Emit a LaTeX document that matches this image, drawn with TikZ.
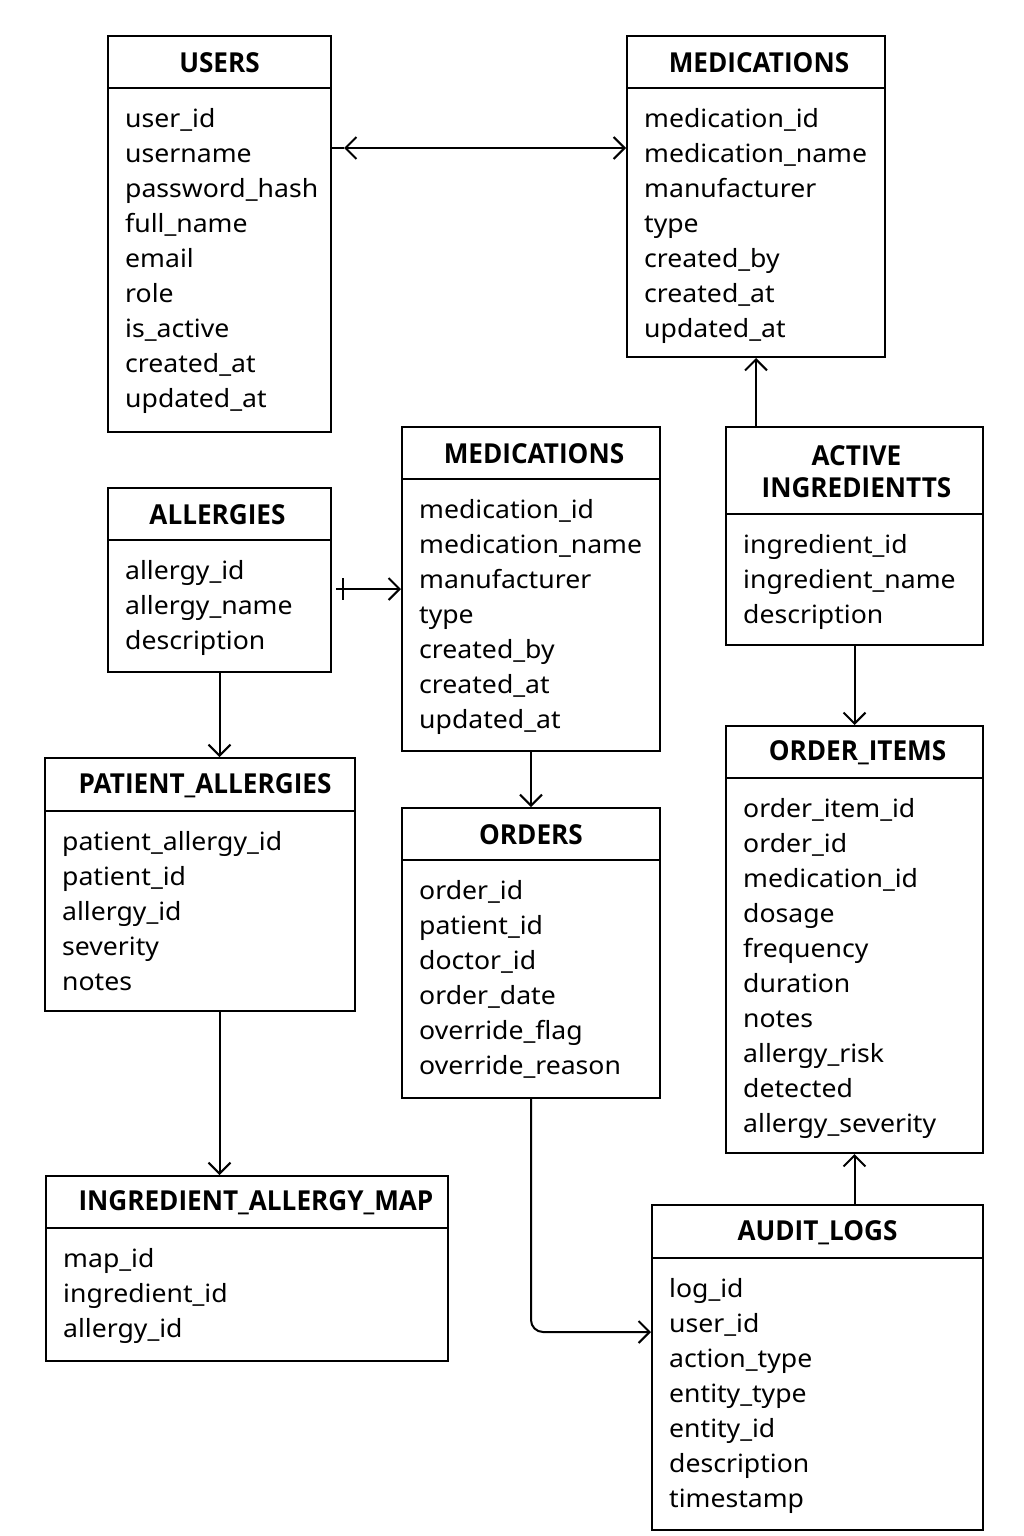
\documentclass[tikz,border=0pt]{standalone}
\usepackage{fontspec}
\setmainfont{Noto Sans}[FakeStretch=1.06]
\newfontfamily\hdrfont{Open Sans}[FakeStretch=0.95]
\usetikzlibrary{arrows.meta,calc}
\tikzset{
  tbl/.style={draw, line width=2pt, inner sep=0pt},
  tblline/.style={line width=2pt},
  hdr/.style={font=\hdrfont\bfseries\fontsize{27.5}{32}\selectfont, align=center, inner sep=0pt},
  fld/.style={font=\fontsize{25.1}{35}\selectfont, anchor=base west, inner sep=0pt},
  conn/.style={line width=2pt},
  tip/.tip={Straight Barb[length=11pt,width=22pt,line width=2pt]},
}
\newcommand\ertable[9]{%
  \node[tbl, minimum width={#4-#2}, minimum height={#5-#3}] (#1) at ({(#2+#4)/2},{(#3+#5)/2}) {};
  \draw[tblline] (#2,#6) -- (#4,#6);
  \node[hdr] (#1-h) at ({(#2+#4)/2+#9},{(#3+#6)/2+1}) {#7};
  \foreach \f [count=\i] in {#8} \node[fld] (#1-f\i) at ({#2+17},{#6+39.5+35*(\i-1)}) {\f};
}
\begin{document}
\begin{tikzpicture}[x=1pt,y=-1pt]
\useasboundingbox[fill=white] (0,0) rectangle (1024,1536);
\ertable{users}{108}{36}{331}{432}{88}{USERS}{user\_id,username,password\_hash,full\_name,email,role,is\_active,created\_at,updated\_at}{0}
\ertable{medA}{627}{36}{885}{357}{88}{MEDICATIONS}{medication\_id,medication\_name,manufacturer,type,created\_by,created\_at,updated\_at}{3}
\ertable{medB}{402}{427}{660}{751}{479}{MEDICATIONS}{medication\_id,medication\_name,manufacturer,type,created\_by,created\_at,updated\_at}{3}
\ertable{ai}{726}{427}{983}{645}{514}{ACTIVE\\INGREDIENTTS}{ingredient\_id,ingredient\_name,description}{2}
\ertable{alg}{108}{488}{331}{672}{540}{ALLERGIES}{allergy\_id,allergy\_name,description}{-2}
\ertable{pa}{45}{758}{355}{1011}{811}{PATIENT\_ALLERGIES}{patient\_allergy\_id,patient\_id,allergy\_id,severity,notes}{5}
\ertable{ord}{402}{808}{660}{1098}{860}{ORDERS}{order\_id,patient\_id,doctor\_id,order\_date,override\_flag,override\_reason}{0}
\ertable{oi}{726}{726}{983}{1153}{778}{ORDER\_ITEMS}{order\_item\_id,order\_id,medication\_id,dosage,frequency,duration,notes,allergy\_risk,detected,allergy\_severity}{3}
\ertable{iam}{46}{1176}{448}{1361}{1228}{INGREDIENT\_ALLERGY\_MAP}{map\_id,ingredient\_id,allergy\_id}{9}
\ertable{aud}{652}{1205}{983}{1530}{1258}{AUDIT\_LOGS}{log\_id,user\_id,action\_type,entity\_type,entity\_id,description,timestamp}{0}
% connectors
\coordinate (uA) at ($(users.north east)+(0,113)$);
\coordinate (uAtip) at ($(uA)+(12,0)$);
\draw[conn] (uA) -- (uAtip);
\draw[conn,tip-tip] (uAtip) -- (uA -| medA.west);
\coordinate (alB) at ($(alg.north east)+(4,102)$);
\draw[conn,-tip] (alB) -- (alB -| medB.west);
\coordinate (alBar) at ($(alB)+(7,-11)$);
\draw[conn] (alBar) -- ++(0,22);
\draw[conn,-tip] (medA.south |- ai.north) -- (medA.south);
\draw[conn,-tip] (ai.south) -- (oi.north);
\draw[conn,-tip] (oi.south |- aud.north) -- (oi.south);
\draw[conn,-tip] (alg.south) -- (alg.south |- pa.north);
\draw[conn,-tip] (medB.south) -- (ord.north);
\draw[conn,-tip] (alg.south |- pa.south) -- (alg.south |- iam.north);
\coordinate (audIn) at ($(aud.north west)+(0,128)$);
\draw[conn,-tip,rounded corners=12pt] (ord.south) |- (audIn);
\end{tikzpicture}
\end{document}
